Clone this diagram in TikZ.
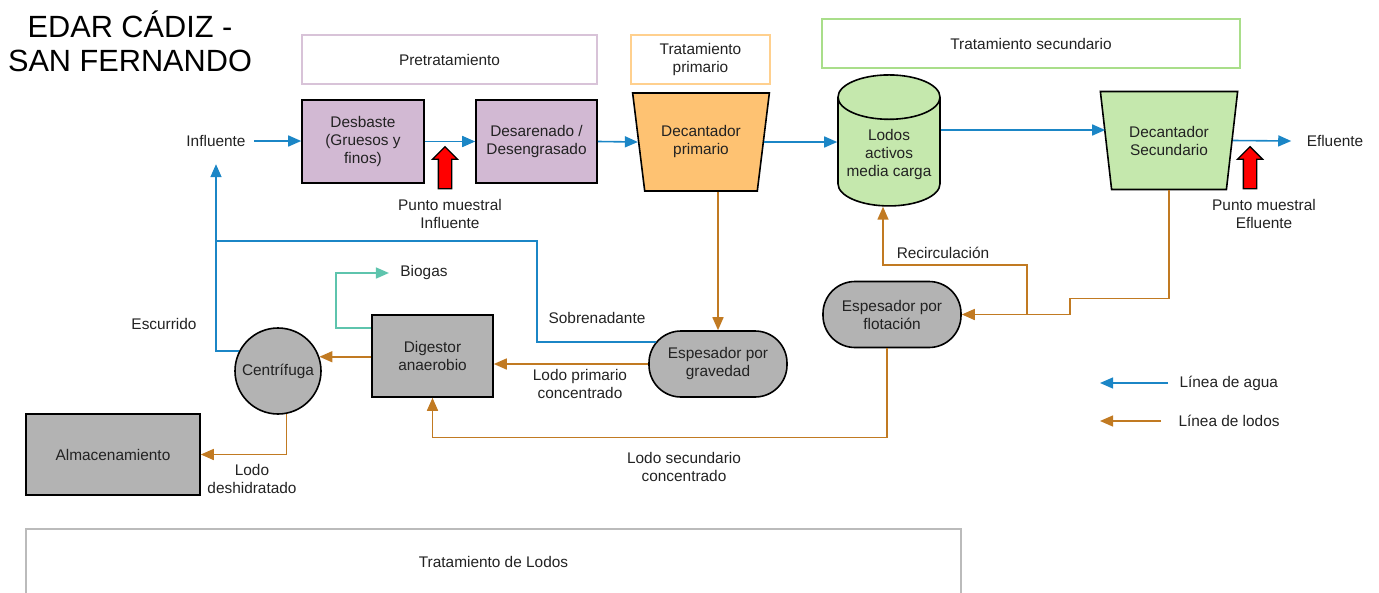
\documentclass[tikz,border=0pt]{standalone}
\usepackage{fontspec}
\setmainfont{Liberation Sans}
\usetikzlibrary{arrows.meta,positioning,shapes.geometric,shapes.arrows}

\definecolor{colagua}{HTML}{1B86C6}
\definecolor{collodo}{HTML}{C17A22}
\definecolor{colgas}{HTML}{5EC4AD}
\definecolor{lila}{HTML}{D2B9D3}
\definecolor{lilaborde}{HTML}{D8C3D8}
\definecolor{naranja}{HTML}{FEC272}
\definecolor{naranjaborde}{HTML}{FFD08E}
\definecolor{verde}{HTML}{C5E8AD}
\definecolor{verdeborde}{HTML}{A9DE8A}
\definecolor{gris}{HTML}{B3B3B3}
\definecolor{grisborde}{HTML}{BBBBBB}
\definecolor{texto}{HTML}{222222}

\begin{document}
\begin{tikzpicture}[
    x=1pt, y=-1pt,
    font=\fontsize{15.4}{18}\selectfont,
    text=texto,
    >={Triangle[length=13pt,width=11pt]},
    proceso/.style={draw=black, line width=1.6pt, align=center, inner sep=2pt},
    etapa/.style={draw, line width=1.5pt, align=center},
    decantador/.style={proceso, trapezium, shape border rotate=180,
                       trapezium left angle=75.7, trapezium right angle=75.7,
                       trapezium stretches=true, inner sep=1pt,
                       minimum width=138pt, minimum height=98pt},
    espesador/.style={proceso, fill=gris, rounded corners=32pt,
                      minimum width=138pt, minimum height=66pt},
    muestra/.style={single arrow, draw=black, fill=red, line width=1.3pt,
                    rotate=90, minimum width=24pt, minimum height=42pt,
                    inner sep=6pt, single arrow head extend=6pt},
    lineaagua/.style={->, draw=colagua, line width=1.6pt},
    linealodo/.style={->, draw=collodo, line width=1.6pt},
    lineagas/.style={->, draw=colgas, line width=1.6pt},
]
\useasboundingbox (0,0) rectangle (1379,592);

%% ---- titulo y etapas ----
\node[align=center, font=\fontsize{30.7}{34}\selectfont, text=black] (titulo) at (130,41) {EDAR CÁDIZ -\\SAN FERNANDO};
\node[etapa, draw=lilaborde, minimum width=295pt, minimum height=49pt] (pretrat) at (449.5,59.5) {Pretratamiento};
\node[etapa, draw=naranjaborde, minimum width=139pt, minimum height=49pt] (primario) at (700.5,59.5) {Tratamiento\\primario};
\node[etapa, draw=verdeborde, minimum width=418pt, minimum height=49pt] (secundario) at (1031,43.5) {Tratamiento secundario};
\node[etapa, draw=grisborde, minimum width=935pt, minimum height=66pt] (tratlodos) at (493.5,562) {Tratamiento de Lodos};

%% ---- linea de agua ----
\node (influente) at (216,141) {Influente};
\node[proceso, fill=lila, minimum width=122pt, minimum height=83pt] (desbaste) at (363,141.5) {Desbaste\\(Gruesos y\\finos)};
\node[proceso, fill=lila, minimum width=121pt, minimum height=83pt] (desarenado) at (536.5,141.5) {Desarenado /\\Desengrasado};
\node[decantador, fill=naranja] (decprim) at (701,142) {Decantador\\primario};
\node[proceso, fill=verde, cylinder, shape border rotate=90, aspect=0.5,
      minimum width=102pt, minimum height=131pt] (lodosact) at (889,155) {Lodos\\activos\\media carga};
\node[decantador, fill=verde] (decsec) at (1169,140.5) {Decantador\\Secundario};
\node (efluente) at (1335,141) {Efluente};

%% puntos de muestreo
\node[muestra] (flechainf) at (445,171) {};
\node[muestra] (flechaefl) at (1250,171) {};
\node[align=center] (ptoinf) at (450,214) {Punto muestral\\Influente};
\node[align=center] (ptoefl) at (1264,214) {Punto muestral\\Efluente};

%% ---- linea de lodos ----
\node[proceso, fill=gris, circle, minimum size=86pt, inner sep=0pt] (centrifuga) at (278,371) {Centrífuga};
\node[proceso, fill=gris, minimum width=121pt, minimum height=82pt] (digestor) at (432.5,356) {Digestor\\anaerobio};
\node[espesador] (espgrav) at (718,364) {Espesador por\\gravedad};
\node[espesador] (espflot) at (892,314.5) {Espesador por\\flotación};
\node[proceso, fill=gris, minimum width=174pt, minimum height=81pt] (almacen) at (113,454.5) {Almacenamiento};

%% etiquetas
\node (biogas) at (424,273) {Biogas};
\node (escurrido) at (164,324) {Escurrido};
\node (sobrenadante) at (597,318) {Sobrenadante};
\node[align=center] (lodoprim) at (580,384) {Lodo primario\\concentrado};
\node[align=center] (lododesh) at (252,479) {Lodo\\deshidratado};
\node[align=center] (lodosec) at (684,467) {Lodo secundario\\concentrado};
\node (recirc) at (943,253) {Recirculación};

%% leyenda
\node[anchor=west] (leyagua) at (1176,383) {Línea de agua};
\node[anchor=west] (leylodo) at (1175,421) {Línea de lodos};

%% ---- flechas linea de agua ----
\draw[lineaagua] ([xshift=5pt]influente.east) -- (influente.east -| desbaste.west);
\draw[lineaagua] (desbaste.east) -- (desarenado.west);
\draw[lineaagua] (desarenado.east) -- (decprim.west);
\draw[lineaagua] (decprim.east) -- (decprim.east -| lodosact.west);
\draw[lineaagua] ([yshift=12pt]decprim.east -| lodosact.east) -- ([yshift=12pt]decprim.east -| decsec.west);
\draw[lineaagua] (decsec.east) -- ([xshift=-12pt]efluente.west);

%% retornos al influente
\coordinate (union) at (216,241);
\draw[lineaagua] (centrifuga.153) -| ([yshift=-14pt]influente.south);
\draw[draw=colagua, line width=1.6pt] ([xshift=8pt,yshift=22pt]espgrav.west) -| (537,241) -- (union);

%% ---- flechas linea de lodos ----
\draw[linealodo] (decprim.south -| espgrav.north) -- (espgrav.north);
\draw[linealodo] (espgrav.west) -- (espgrav.west -| digestor.east);
\draw[linealodo] (centrifuga.19 -| digestor.west) -- (centrifuga.19);
\draw[linealodo] (centrifuga.-79) |- (almacen.east);
\draw[linealodo] ([xshift=-5pt]espflot.south) -- ++(0,89) -| (digestor.south);
\draw[linealodo] (decsec.south) -- ++(0,108) -- ++(-99,0) |- (espflot.east);
\coordinate (derivacion) at (1027,314.5);
\draw[linealodo] (derivacion) -- ++(0,-49.5) -| ([xshift=-6pt]lodosact.south);

%% biogas
\draw[lineagas] ([yshift=28pt]digestor.west) -- ++(-35,0) |- ([xshift=-8pt]biogas.west);

%% ---- leyenda ----
\draw[lineaagua, line width=1.3pt] ([xshift=-8pt]leyagua.west) -- ++(-68,0);
\draw[linealodo, line width=1.3pt] ([xshift=-14pt]leylodo.west) -- ++(-61,0);

\end{tikzpicture}
\end{document}
